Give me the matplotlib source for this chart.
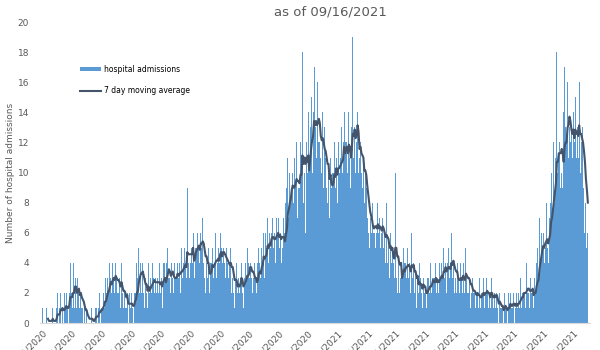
import numpy as np
import pandas as pd
import matplotlib
matplotlib.use("Agg")
import matplotlib.pyplot as plt
import matplotlib.dates as mdates

# daily hospital admissions, one row per week starting 3/1/2020
admissions = [
    1, 0, 0, 0, 0, 1, 0,
    0, 0, 0, 0, 1, 0, 0,
    0, 1, 2, 0, 1, 2, 0,
    1, 0, 2, 1, 2, 1, 0,
    2, 4, 2, 1, 4, 1, 3,
    2, 1, 3, 2, 1, 2, 1,
    1, 0, 1, 0, 1, 0, 0,
    0, 0, 1, 0, 0, 0, 1,
    1, 0, 1, 2, 0, 1, 1,
    2, 1, 3, 2, 2, 3, 2,
    4, 3, 2, 4, 3, 2, 4,
    3, 2, 2, 3, 1, 4, 2,
    1, 2, 1, 1, 2, 0, 2,
    1, 2, 1, 0, 2, 2, 3,
    4, 3, 5, 2, 4, 2, 4,
    2, 1, 3, 2, 1, 4, 2,
    3, 2, 4, 3, 2, 3, 2,
    3, 2, 4, 2, 3, 1, 4,
    4, 3, 2, 4, 5, 3, 3,
    2, 4, 3, 2, 4, 3, 3,
    4, 3, 4, 2, 5, 3, 4,
    5, 4, 3, 9, 4, 3, 4,
    5, 4, 6, 3, 5, 6, 5,
    6, 5, 4, 6, 5, 7, 4,
    3, 2, 4, 3, 5, 2, 4,
    4, 5, 3, 4, 6, 3, 4,
    5, 4, 6, 5, 4, 5, 4,
    4, 3, 5, 4, 3, 4, 5,
    2, 3, 2, 1, 3, 4, 2,
    3, 2, 3, 4, 2, 1, 3,
    4, 3, 5, 4, 3, 4, 3,
    2, 3, 4, 2, 3, 2, 4,
    5, 4, 3, 5, 4, 6, 3,
    6, 5, 7, 4, 6, 5, 6,
    7, 5, 6, 4, 7, 6, 7,
    5, 6, 4, 5, 7, 6, 5,
    8, 9, 11, 7, 10, 8, 9,
    10, 8, 11, 9, 12, 7, 9,
    9, 12, 11, 18, 8, 10, 6,
    12, 10, 14, 11, 13, 15, 10,
    14, 17, 12, 13, 11, 16, 12,
    12, 11, 10, 14, 9, 13, 11,
    9, 8, 10, 7, 11, 9, 10,
    10, 12, 9, 11, 8, 12, 10,
    11, 13, 10, 12, 14, 9, 12,
    12, 10, 14, 11, 9, 13, 19,
    11, 13, 10, 12, 14, 10, 11,
    12, 10, 9, 11, 8, 10, 9,
    7, 6, 5, 7, 6, 8, 6,
    6, 7, 5, 6, 8, 6, 7,
    5, 6, 7, 5, 6, 4, 8,
    4, 5, 3, 6, 4, 5, 4,
    3, 10, 3, 2, 4, 2, 3,
    4, 3, 5, 4, 3, 4, 3,
    5, 3, 4, 2, 6, 3, 4,
    2, 3, 1, 3, 2, 4, 3,
    2, 1, 3, 2, 2, 1, 3,
    3, 2, 4, 2, 3, 3, 2,
    3, 4, 2, 3, 2, 4, 3,
    4, 3, 5, 3, 4, 2, 4,
    5, 3, 4, 6, 3, 4, 2,
    3, 2, 4, 3, 2, 4, 3,
    2, 4, 3, 2, 5, 3, 2,
    2, 3, 1, 2, 3, 2, 2,
    1, 2, 2, 1, 3, 1, 2,
    2, 3, 1, 2, 3, 2, 1,
    2, 1, 3, 2, 1, 2, 2,
    1, 2, 1, 0, 2, 1, 1,
    1, 0, 2, 1, 1, 0, 2,
    1, 2, 1, 1, 2, 0, 1,
    2, 1, 2, 1, 3, 1, 2,
    2, 3, 2, 1, 4, 2, 2,
    1, 3, 2, 2, 1, 3, 2,
    4, 5, 3, 7, 4, 6, 5,
    6, 4, 5, 8, 5, 4, 7,
    8, 10, 7, 12, 9, 8, 11,
    18, 10, 11, 12, 9, 10, 9,
    14, 17, 13, 12, 16, 11, 13,
    12, 13, 11, 14, 12, 15, 11,
    13, 11, 16, 10, 12, 13, 9,
    9, 6, 8, 5, 6,
]

dates = pd.date_range("2020-03-01", periods=len(admissions), freq="D")
series = pd.Series(admissions, index=dates)
moving_avg = series.rolling(7).mean()

bar_color = "#5B9BD5"
line_color = "#44546A"
text_color = "#595959"

fig = plt.figure(figsize=(6, 3.5), dpi=100)
ax = fig.add_axes([0.067, 0.077, 0.916, 0.86])

bars = ax.bar(dates, series.values, width=1.0, color=bar_color, linewidth=0,
              antialiased=False)
line, = ax.plot(dates, moving_avg.values, color=line_color, lw=1.5)

ax.set_ylim(0, 20)
ax.set_yticks(range(0, 21, 2))
ax.set_xlim(dates[0] - pd.Timedelta(days=2), dates[-1] + pd.Timedelta(days=2))

ax.xaxis.set_major_locator(mdates.MonthLocator())
ax.xaxis.set_major_formatter(
    plt.FuncFormatter(lambda v, pos: (lambda d: f"{d.month}/{d.day}/{d.year}")(mdates.num2date(v))))
for lbl in ax.get_xticklabels():
    lbl.set_rotation(45)
    lbl.set_ha("right")
    lbl.set_rotation_mode("anchor")

ax.tick_params(axis="both", length=0, labelsize=6.5, colors=text_color)
ax.tick_params(axis="y", pad=8)
for side in ["top", "right", "left"]:
    ax.spines[side].set_visible(False)
ax.spines["bottom"].set_color("#D9D9D9")

ax.set_ylabel("Number of hospital admissions", fontsize=6.5, color=text_color, labelpad=2)
fig.text(0.55, 0.965, "as of 09/16/2021", ha="center", va="center",
         fontsize=9.5, color=text_color)

ax.legend([bars, line], ["hospital admissions", "7 day moving average"],
          loc="upper left", bbox_to_anchor=(0.06, 0.88), frameon=False,
          fontsize=5.5, handlelength=2.8, handleheight=0.4, labelspacing=1.6,
          handletextpad=0.3)

fig.savefig("out.png", dpi=100)
